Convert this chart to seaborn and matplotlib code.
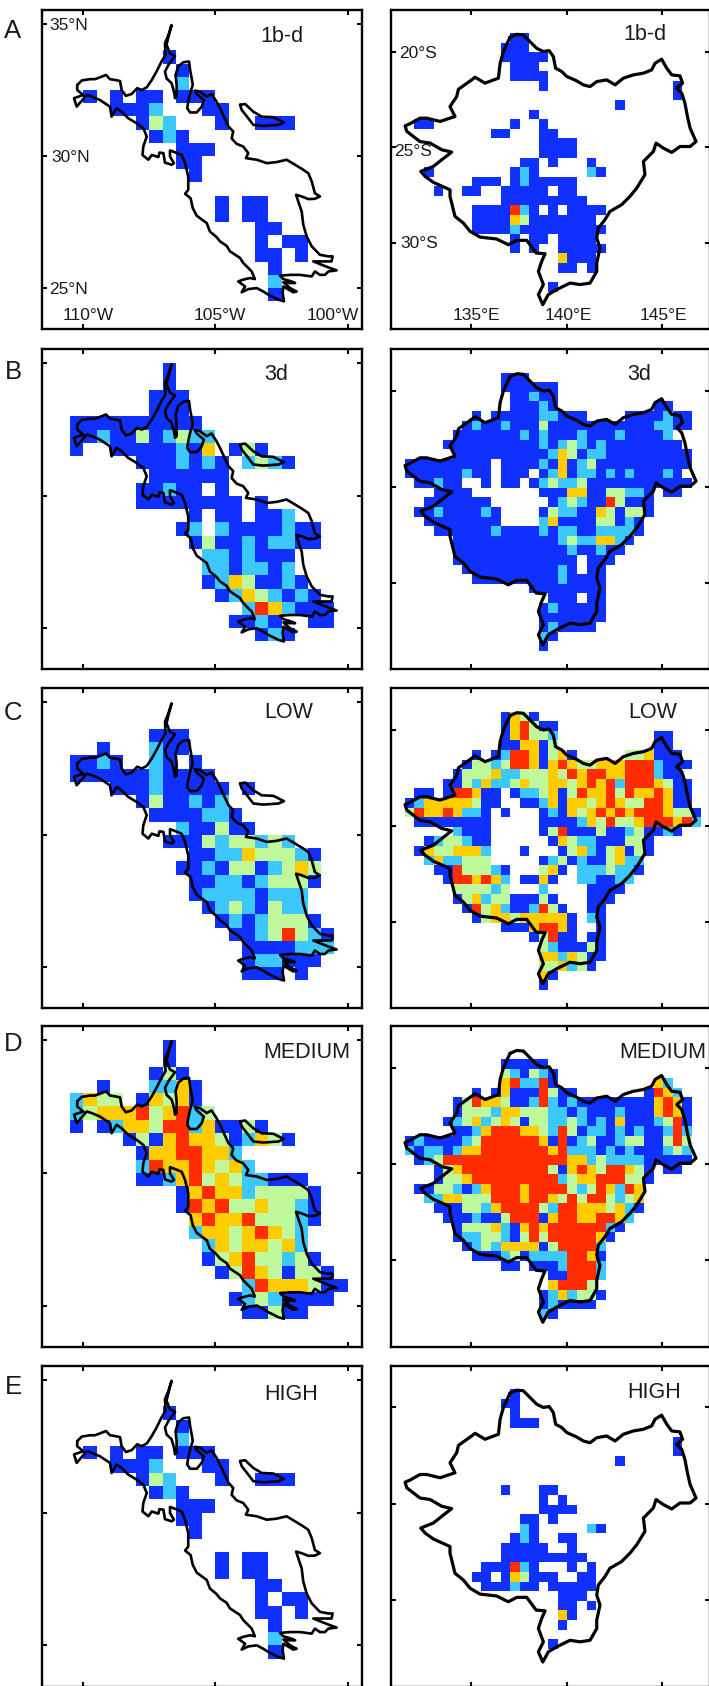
import matplotlib

matplotlib.use("Agg")

import matplotlib.pyplot as plt
import numpy as np
import pandas as pd
import seaborn as sns
from matplotlib.colors import ListedColormap

# classes per 0.5 degree cell: . = no data, 1-5 = blue to red
a_west = [
    "",
    "",
    ".......1",
    "........1",
    "........2",
    ".1.1.11.111",
    "...1112...11",
    ".....132...1..111",
    "......121",
    "........111",
    "........11",
    ".........1",
    "",
    "...........1.11",
    "...........1.11",
    "..............11",
    "..............1.11",
    "..............11.1",
    "...............1",
    "...............2",
    "...............1",
]
b_west = [
    ".......1",
    ".......1",
    "......111",
    "......111",
    "1111111111",
    "11211312322",
    "1..11111214.131",
    ".....1112121.2321",
    "......111111",
    ".....11211.1",
    ".....11111111.1",
    ".........1.11.112",
    "........12.21111211",
    ".........1311212211",
    "..........2212111",
    "..........2212212",
    "..........12431121",
    "...........12432121",
    ".............2542111",
    "............1121..11",
    "..............121",
]
c_west = [
    "",
    "",
    "......111",
    "..1...211",
    "1121..21.1",
    "11111121111",
    "...111211111.1",
    ".....1311212",
    "......1111221",
    "........211311",
    ".......1113233232",
    ".........1122433321",
    "........11213312343",
    ".........1122123331",
    ".........122221222",
    "..........12321322",
    "...........12123331",
    "............11235321",
    ".............1111222",
    ".............122111",
    ".............111.1",
]
d_west = [
    ".......1",
    ".......1",
    "......131",
    "..1...2241",
    "2433.14341",
    "23444534523",
    "1.1244355241131",
    "....1314544312431",
    ".....14455442",
    ".....254454342",
    ".....1124534322111",
    "........14544233331",
    "........15453343321",
    ".........4544533321",
    ".........244345432",
    "..........24344342",
    "..........134533231",
    "...........135431331",
    ".............25444311",
    "............12321111",
    ".............11311",
]
e_west = a_west

a_east = [
    "..... ..... .11",
    "..... ..... 111",
    "..... ..... 11111",
    "..... ..... .111",
    "..... ..... .1111",
    "..... ..... ....1 ..... ..... ...1",
    "..... ..... ..... ..... ..... ...1",
    "..... ..... ..... ..... ..1",
    "..... ..... ...1",
    ".11.. ..... .1..1",
    "..... ....1 1...1 1",
    "..... ..... ....1 111",
    "..... ..... ....1 111",
    "..... ..... ..11. 1...1",
    "..1.. ..... .121. ....2 1",
    "..... ..111 .1211 111",
    "...1. .11.. 11111 .11",
    "..... ..... 11111 1111",
    "..... ..111 1521. 1.111 1",
    "..... ..111 14311 11111",
    "..... ..111 12111 11111 1",
    "..... ..... .1.11 .1111",
    "..... ..... .1.1. .1111 1",
    "..... ..... ..... .4111",
    "..... ..... ..... .11.1",
    "",
    "..... ..... ..... 1",
]
b_east = [
    "..... ..... 111",
    "..... ..... 11111 1",
    "..... ..... .1121 1",
    "..... ..... .1112 1.... ..... .11",
    "..... ..1.1 11112 2111. ...11 11211",
    "..... .1211 21113 11111 11111 12211",
    "..... 11111 11212 11121 11211 112.",
    "....1 11111 11112 12321 21111 1111",
    "..... 11111 11111 24312 21111 11111",
    "11111 1111. 11112 14123 11111 11111",
    "11111 1211. 111.1 24122 12121 1121.",
    ".1121 1..1. 11.12 32231 11111 11111",
    "...11 11... ....1 11441 13322 1.11",
    "..111 1111. ..... 12321 15311 1",
    ".1121 11121 ....1 32211 43133 1",
    "..111 11111 ....2 41111 33121",
    "...11 11112 11112 12211 22221",
    "..... 11111 11111 12322 4421",
    "..... 11111 11111 11211 211",
    "..... 11111 11111 111.1 11",
    "..... .1111 11111 121.1 1",
    "..... ..111 11111 12111 1",
    "..... ..... ...11 11111 1",
    "..... ..... ..... 111.1 1",
    "..... ..... ....1 21111 1",
    "..... ..... ....1 11111 1",
    "..... ..... ....1 21111",
    "..... ..... ....2 1",
    "..... ..... ....1",
]
c_east = [
    "..... ..... 1431",
    "..... ..... 14531 1",
    "..... ..... 14533 2.... ..... .11",
    "..... ..... 11441 3.... ..... .11",
    "..... ..1.1 25541 341.. ...33 4111",
    "..... .1332 35541 45433 44455 52111",
    "..... 13334 22333 43545 54455 5211",
    "....1 13242 23433 44345 45255 54311",
    ".11.1 55411 .1223 41354 45354 45411",
    "12444 44311 ..112 41443 45433 55411",
    "35445 4221. 1...1 21434 54545 55433 1",
    ".1111 1111. ....1 11124 35334 55545 2",
    "..... 2111. ....1 35111 31123 1121",
    "..123 3211. ..... 14322 11133 1",
    ".1433 4442. ..1.. .1342 13413 1",
    "..242 2333. ....1 23121 13422",
    "...11 53332 1...3 41.22 23221",
    "....1 55454 2.114 1..22 1122",
    "..... 33332 3...2 ....1 111",
    "..... 13423 31113 1...1 11",
    "..... .1534 21125 31..1 1",
    "..... ..134 43444 441.2 1",
    "..... ..... 11145 541.. 1",
    "..... ..... ...13 511.1 1",
    "..... ..... ....3 21113 1",
    "..... ..... ....4 42431 1",
    "..... ..... ....3 34231",
    "..... ..... ....4 1",
    "..... ..... ....1",
]
d_east = [
    "",
    "..... ..... 11111",
    "..... ..... 32132 1",
    "..... ..... 45225 1.... ..... .42",
    "..... ..1.1 41115 311.. ..... 1542",
    "..... 13544 31125 21211 11111 14541",
    "..... 13332 44333 22121 11211 14541",
    "....1 23423 43133 22321 21411 12351",
    "..... 11245 55443 25312 21212 11252",
    "12111 12355 55554 15123 11233 11353",
    "21221 24455 55555 45222 12121 11232",
    ".1235 55555 55555 55442 32222 11111",
    "...13 45555 55555 31454 35543 1.11",
    "...13 34555 55555 52344 55533 1",
    ".1133 21245 55455 55323 54254",
    "..224 43335 55455 43535 53234",
    "...11 13324 55553 25544 43421",
    "....1 11211 35551 45544 5542",
    "..... 13334 21454 55555 521",
    "..... 12233 21353 55555 41",
    "..... .1232 44441 35555 2",
    "..... ..111 23122 22554 1",
    "..... ..... 11.11 12555 2",
    "..... ..... ..... 11555 2",
    "..... ..... ..... 45553",
    "..... ..... ....1 24233 1",
    "..... ..... ....1 21111",
    "..... ..... ....2 1",
]
e_east = [
    "..... ..... .1",
    "..... ..... 11",
    "..... ..... .1",
    "..... ..... .111",
    "",
    "..... ..... ..... ..... ..... ...1",
    "..... ..... ..... ..... ..... ...1",
    "..... ..... ..... ..... ..1",
    "",
    "",
    "..... ..... 1...1 1",
    "..... ..... ....1 .1",
    "..... ..... ....1 111",
    "..... ..... ..11. 1",
    "..... ..... ..21. ....2 1",
    "..... ..... .121. .11",
    "..... ..... 11111 ..1",
    "..... ..... 11111 1111",
    "..... ...11 1521. ..1.1",
    "..... ..11. 14311 1..11",
    "..... ...11 1211. 11111",
    "..... ..... ..... .111",
    "..... ..... ..... .11.1",
    "..... ..... ..... .41",
    "..... ..... ..... .1",
    "",
    "..... ..... ..... 1",
]

# basin outlines in degrees
west_lon = [
    -110.23, -110.06, -109.75, -109.56, -109.37, -109.14, -108.99, -108.80, -108.61, -108.55,
    -108.39, -108.17, -107.96, -107.79, -107.60, -107.41, -107.23, -107.04, -106.89, -106.91,
    -106.78, -106.66, -106.78, -106.85, -106.72, -106.53, -106.78, -106.91, -106.85, -106.66,
    -106.57, -106.53, -106.47, -106.47, -106.51, -106.41, -106.22, -106.00, -105.96, -105.90,
    -105.86, -105.96, -106.03, -106.07, -105.96, -105.71, -105.52, -105.44, -105.71, -105.78,
    -105.59, -105.33, -105.15, -104.96, -104.83, -104.68, -104.51, -104.33, -104.39, -104.20,
    -103.95, -103.76, -103.85, -103.44, -103.06, -102.69, -102.31, -101.99, -101.68, -101.49,
    -101.36, -101.24, -101.05, -101.24, -101.49, -101.74, -101.95, -101.87, -101.74, -101.68,
    -101.55, -101.36, -101.05, -100.73, -100.57, -100.61, -101.05, -101.30, -100.98, -100.67,
    -100.42, -100.73, -100.86, -101.05, -101.24, -101.36, -101.80, -102.18, -102.56, -102.43,
    -102.12, -101.99, -102.18, -102.43, -102.18, -101.93, -102.06, -102.43, -102.46, -102.41,
    -102.62, -103.00, -103.19, -103.44, -103.76, -104.01, -103.88, -104.14, -103.95, -103.69,
    -103.51, -103.63, -103.95, -104.07, -104.45, -104.58, -104.83, -104.96, -105.21, -105.33,
    -105.71, -105.86, -105.94, -106.15, -106.03, -106.03, -106.15, -106.28, -106.60, -106.72,
    -106.72, -106.57, -106.66, -106.91, -106.97, -107.12, -107.16, -107.41, -107.54, -107.76,
    -107.73, -107.60, -107.73, -107.98, -108.30, -108.55, -108.74, -108.93, -108.99, -109.37,
    -109.68, -109.87, -110.25, -110.35, -110.00, -110.23, -110.23,
]
west_lat = [
    32.69, 32.86, 32.91, 32.91, 32.98, 33.07, 32.91, 32.88, 32.84, 32.50,
    32.28, 32.35, 32.57, 32.50, 32.60, 32.88, 33.20, 33.58, 33.83, 34.27,
    34.58, 34.96, 34.52, 34.21, 33.89, 33.79, 33.45, 33.20, 32.94, 32.76,
    32.44, 32.19, 32.25, 32.69, 33.07, 33.39, 33.55, 33.58, 33.26, 32.94,
    32.69, 32.38, 32.06, 31.81, 31.65, 31.65, 31.87, 32.12, 32.35, 32.48,
    32.44, 32.25, 32.35, 32.06, 31.81, 31.49, 31.12, 30.93, 30.67, 30.46,
    30.36, 30.11, 29.92, 29.86, 29.73, 29.77, 29.86, 29.67, 29.48, 29.35,
    29.04, 28.59, 28.47, 28.38, 28.37, 28.47, 28.53, 28.28, 27.90, 27.40,
    26.95, 26.58, 26.26, 26.20, 26.20, 26.01, 26.01, 26.01, 25.88, 25.76,
    25.67, 25.63, 25.50, 25.50, 25.63, 25.44, 25.50, 25.50, 25.47, 25.34,
    25.25, 25.19, 25.19, 25.22, 25.00, 24.87, 24.84, 25.06, 24.81, 24.50,
    24.56, 24.75, 24.87, 25.00, 24.96, 24.84, 25.06, 25.25, 25.32, 25.38,
    25.34, 25.63, 25.95, 26.14, 26.39, 26.60, 26.77, 26.93, 27.14, 27.46,
    27.74, 28.03, 28.40, 28.57, 28.72, 29.22, 29.73, 30.04, 30.17, 30.21,
    29.98, 29.73, 29.67, 29.75, 30.11, 30.13, 29.96, 30.04, 29.86, 30.04,
    30.36, 30.74, 31.05, 31.24, 31.43, 31.68, 31.81, 31.49, 31.87, 32.12,
    32.25, 32.31, 31.87, 32.19, 32.31, 32.50, 32.69,
]
island_lon = [-104.07, -103.88, -103.57, -103.25, -102.81, -102.41, -102.62, -103.19, -103.57, -103.76, -104.01, -104.07]
island_lat = [31.94, 31.97, 31.68, 31.49, 31.47, 31.27, 31.18, 31.14, 31.18, 31.43, 31.75, 31.94]

east_lon = [
    137.04, 137.39, 137.73, 138.08, 138.43, 138.78, 139.08, 139.30, 139.42, 139.74,
    140.00, 140.52, 140.87, 141.22, 141.57, 142.09, 142.53, 142.96, 143.48, 144.01,
    144.44, 144.62, 144.96, 145.23, 145.49, 145.92, 146.06, 145.75, 146.01, 146.18,
    146.31, 146.45, 146.76, 146.45, 145.92, 145.49, 145.05, 144.67, 144.53, 144.01,
    144.09, 143.66, 143.31, 142.87, 142.26, 142.00, 141.65, 141.57, 141.74, 141.57,
    141.57, 141.22, 140.70, 140.17, 139.48, 139.04, 138.75, 138.52, 138.78, 138.52,
    138.69, 138.87, 138.40, 137.91, 137.39, 136.95, 136.34, 135.47, 134.95, 134.60,
    134.16, 133.90, 133.90, 133.03, 132.60, 132.37, 133.03, 133.47, 133.99, 133.47,
    132.86, 132.33, 131.64, 131.55, 131.81, 132.33, 132.68, 133.38, 134.16, 133.90,
    134.25, 134.34, 135.03, 135.21, 135.73, 136.43, 136.52, 136.69, 137.04,
]
east_lat = [
    -19.25, -19.10, -19.13, -19.48, -19.83, -20.00, -19.95, -20.26, -20.87, -21.04,
    -21.30, -21.53, -21.74, -21.83, -21.57, -21.48, -21.74, -21.39, -21.22, -21.13,
    -20.96, -20.61, -20.40, -20.87, -21.22, -21.27, -21.65, -21.91, -22.17, -22.70,
    -23.39, -24.00, -24.70, -24.96, -24.96, -25.27, -25.04, -24.78, -25.22, -25.74,
    -26.43, -27.13, -27.56, -28.00, -28.35, -28.78, -29.22, -29.74, -30.26, -31.04,
    -31.48, -32.09, -32.17, -32.09, -32.43, -32.69, -33.22, -32.69, -32.17, -31.48,
    -30.96, -30.56, -30.52, -29.86, -29.86, -30.09, -29.79, -29.69, -29.39, -28.96,
    -28.61, -27.56, -27.22, -26.83, -26.52, -26.26, -26.00, -25.65, -25.25, -25.13,
    -24.78, -24.70, -24.17, -23.88, -23.77, -23.48, -23.48, -23.65, -23.39, -22.87,
    -22.35, -21.97, -21.48, -21.34, -21.65, -21.39, -20.61, -20.00, -19.25,
]

row_letters = ["A", "B", "C", "D", "E"]
west_names = ["1b-d", "3d", "LOW", "MEDIUM", "HIGH"]
east_names = ["1b-d", "3d", "LOW", "MEDIUM", "HIGH"]
west_panels = [a_west, b_west, c_west, d_west, e_west]
east_panels = [a_east, b_east, c_east, d_east, e_east]

west_lon_ticks = [-110, -105, -100]
west_lat_ticks = [35, 30, 25]
east_lon_ticks = [135, 140, 145]
east_lat_ticks = [-20, -25, -30]

class_colors = ["#0f30ff", "#3cc8ff", "#bff79b", "#ffcc00", "#ff2d00"]

W, H = 709, 1686
CELL = 0.5


def cells(rows, n_cols):
    table = np.full((len(rows), n_cols), np.nan)
    for j, row in enumerate(rows):
        row = row.replace(" ", "")
        for i, ch in enumerate(row):
            if ch != ".":
                table[j, i] = int(ch)
    return pd.DataFrame(table)


def px_axes(fig, left, top, right, bottom):
    return fig.add_axes([left / W, 1 - bottom / H, (right - left) / W, (bottom - top) / H])


def px_text(fig, x, y, s, size):
    fig.text(x / W, 1 - y / H, s, fontsize=size, ha="center", va="center", color="#1a1a1a")


def draw_panel(ax, rows, n_cols, lon0, lat0, extent, lon_ticks, lat_ticks, outlines, lw):
    # seaborn puts cell i at [i, i + 1], so degrees are converted to cell units
    def gx(lon):
        return (np.asarray(lon, dtype=float) - lon0) / CELL

    def gy(lat):
        return (lat0 - np.asarray(lat, dtype=float)) / CELL

    sns.heatmap(
        cells(rows, n_cols),
        ax=ax,
        cmap=ListedColormap(class_colors),
        vmin=0.5,
        vmax=5.5,
        cbar=False,
        xticklabels=False,
        yticklabels=False,
    )
    for lon, lat in outlines:
        ax.plot(gx(lon), gy(lat), color="black", lw=lw, solid_joinstyle="round")

    ax.set_xlim(gx(extent[0]), gx(extent[1]))
    ax.set_ylim(gy(extent[2]), gy(extent[3]))
    ax.set_xticks(gx(lon_ticks))
    ax.set_yticks(gy(lat_ticks))
    ax.set_xticklabels([])
    ax.set_yticklabels([])
    ax.tick_params(
        direction="in", top=True, right=True, bottom=True, left=True,
        length=3.8, width=1.5, color="black",
    )
    for spine in ax.spines.values():
        spine.set_visible(True)
        spine.set_linewidth(1.7)
        spine.set_color("black")


sns.set_theme(style="white")
plt.rcParams["font.family"] = ["Liberation Sans", "DejaVu Sans"]

fig = plt.figure(figsize=(W / 100, H / 100), dpi=100)
fig.patch.set_facecolor("white")

row_tops = [10, 349.3, 688.3, 1026, 1365.7]
row_bottoms = [329, 669.3, 1008.3, 1346.7, 1686.5]
letter_y = [31, 372, 713, 1044, 1387]
west_name_xy = [(282, 36), (276, 375), (289, 713), (307, 1053), (291, 1395)]
east_name_xy = [(645, 35), (639, 375), (653, 712), (663, 1053), (654, 1392)]

for k in range(5):
    ax_w = px_axes(fig, 42.3, row_tops[k], 361.7, row_bottoms[k])
    draw_panel(
        ax_w, west_panels[k], 21, -110.5, 35.0,
        (-111.55, -99.47, 23.45, 35.53),
        west_lon_ticks, west_lat_ticks,
        [(west_lon, west_lat), (island_lon, island_lat)], 1.9,
    )
    ax_e = px_axes(fig, 390.7, row_tops[k], 710, row_bottoms[k])
    draw_panel(
        ax_e, east_panels[k], 31, 131.54, -19.04,
        (130.80, 147.49, -34.49, -17.83),
        east_lon_ticks, east_lat_ticks,
        [(east_lon, east_lat)], 2.3,
    )
    px_text(fig, 13, letter_y[k], row_letters[k], 18.5)
    px_text(fig, west_name_xy[k][0], west_name_xy[k][1], west_names[k], 15.5)
    px_text(fig, east_name_xy[k][0], east_name_xy[k][1], east_names[k], 15.5)

# coordinate labels sit inside the first row only
for s, x, y in [("35°N", 69, 26), ("30°N", 71, 158), ("25°N", 69, 290),
                ("110°W", 88, 315), ("105°W", 220, 315), ("100°W", 333, 315)]:
    px_text(fig, x, y, s, 12.5)
for s, x, y in [("20°S", 418, 53), ("25°S", 413, 151), ("30°S", 419, 244),
                ("135°E", 476, 316), ("140°E", 568, 316), ("145°E", 663, 316)]:
    px_text(fig, x, y, s, 12.5)

fig.savefig("out.png", dpi=100)
